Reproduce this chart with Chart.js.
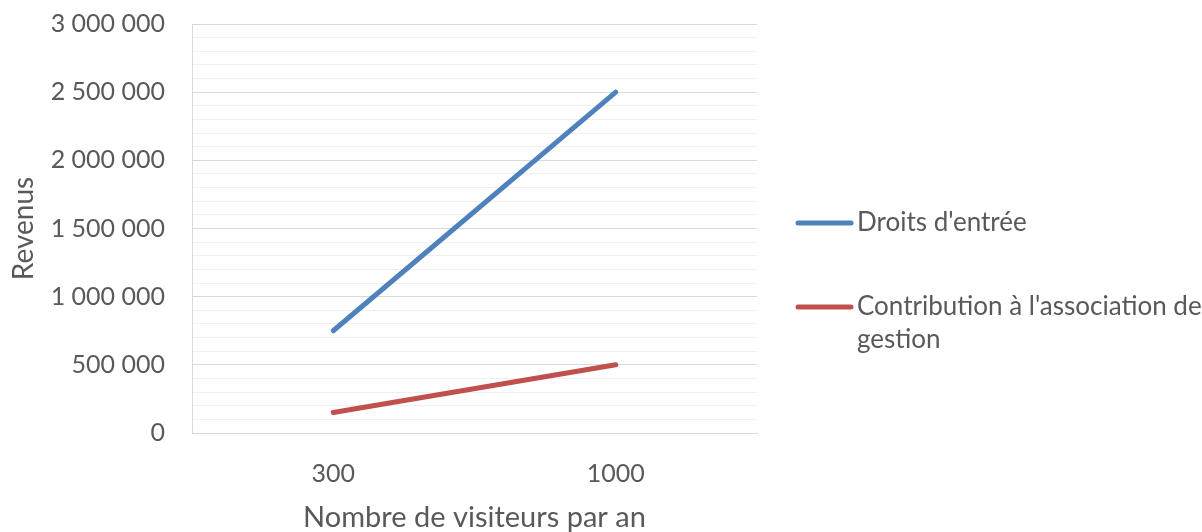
<!DOCTYPE html>
<html>
<head>
<meta charset="utf-8">
<script src="https://cdn.jsdelivr.net/npm/chart.js@4.4.1/dist/chart.umd.min.js"></script>
<style>
  html, body { margin: 0; padding: 0; background: #ffffff; }
  #wrap { width: 1202px; height: 532px; position: relative; }
</style>
</head>
<body>
<div id="wrap"><canvas id="c" width="1202" height="532"></canvas></div>
<script>
// Visitors per year (categories)
const categories = ['300', '1000'];
// Revenue series
const droitsEntree = [750000, 2500000];
const contributionGestion = [150000, 500000];
const seriesLabels = ['Droits d\'entrée', 'Contribution à l\'association de gestion'];
const yAxisTitle = 'Revenus';
const xAxisTitle = 'Nombre de visiteurs par an';

const FONT = 'Lato, "Open Sans", sans-serif';
const TEXT = '#595959';

function fmt(v) {
  return String(Math.round(v)).replace(/\B(?=(\d{3})+(?!\d))/g, ' ');
}

// Legend drawn to the right of the plot, with wrapped labels
const sideLegend = {
  id: 'sideLegend',
  afterDraw(chart) {
    const ctx = chart.ctx;
    const x0 = 798, lineLen = 53, textX = 857, maxW = 1202 - textX + 4;
    const rows = [223, 307];
    ctx.save();
    ctx.font = '26px ' + FONT;
    ctx.textBaseline = 'middle';
    chart.data.datasets.forEach((ds, i) => {
      const y = rows[i];
      ctx.strokeStyle = ds.borderColor;
      ctx.lineWidth = 5;
      ctx.lineCap = 'round';
      ctx.beginPath();
      ctx.moveTo(x0, y);
      ctx.lineTo(x0 + lineLen, y);
      ctx.stroke();
      ctx.fillStyle = TEXT;
      const words = ds.label.split(' ');
      let line = '', ly = y;
      words.forEach(w => {
        const test = line ? line + ' ' + w : w;
        if (ctx.measureText(test).width > maxW && line) {
          ctx.fillText(line, textX, ly);
          line = w; ly += 33;
        } else line = test;
      });
      ctx.fillText(line, textX, ly);
    });
    ctx.restore();
  }
};

new Chart(document.getElementById('c'), {
  type: 'line',
  data: {
    labels: categories,
    datasets: [
      { label: seriesLabels[0], data: droitsEntree, borderColor: '#4f81bd', borderWidth: 5,
        borderCapStyle: 'round', pointRadius: 0, pointHoverRadius: 0, tension: 0, fill: false },
      { label: seriesLabels[1], data: contributionGestion, borderColor: '#c0504d', borderWidth: 5,
        borderCapStyle: 'round', pointRadius: 0, pointHoverRadius: 0, tension: 0, fill: false }
    ]
  },
  options: {
    responsive: false,
    animation: false,
    events: [],
    layout: { padding: { left: 0, right: 445, top: 24, bottom: 0 } },
    plugins: { legend: { display: false }, tooltip: { enabled: false } },
    scales: {
      x: {
        offset: true,
        grid: { display: false, drawTicks: false },
        border: { display: true, color: '#d9d9d9', width: 1 },
        ticks: { color: TEXT, font: { family: FONT, size: 25 }, padding: 26 },
        title: { display: true, text: xAxisTitle, color: TEXT, font: { family: FONT, size: 29, lineHeight: 1.0 }, padding: { top: 0, bottom: 0 } },
        afterFit(s) { s.height = 99; s.paddingLeft = 0; s.paddingRight = 0; }
      },
      y: {
        min: 0, max: 3000000,
        ticks: {
          stepSize: 100000,
          color: TEXT,
          font: { family: FONT, size: 25 },
          padding: 27,
          autoSkip: false,
          callback: (v) => (v % 500000 === 0 ? fmt(v) : '')
        },
        grid: {
          drawTicks: false,
          lineWidth: 1,
          color: (c) => (c.tick && c.tick.value % 500000 === 0 ? '#d9d9d9' : '#f0f0f0')
        },
        border: { display: true, color: '#d9d9d9', width: 1 },
        title: { display: true, text: yAxisTitle, color: TEXT, font: { family: FONT, size: 28 }, padding: { top: 7, bottom: 7 } },
        afterFit(s) { s.width = 192; s.paddingTop = 0; s.paddingBottom = 0; }
      }
    }
  },
  plugins: [sideLegend]
});
</script>
</body>
</html>
